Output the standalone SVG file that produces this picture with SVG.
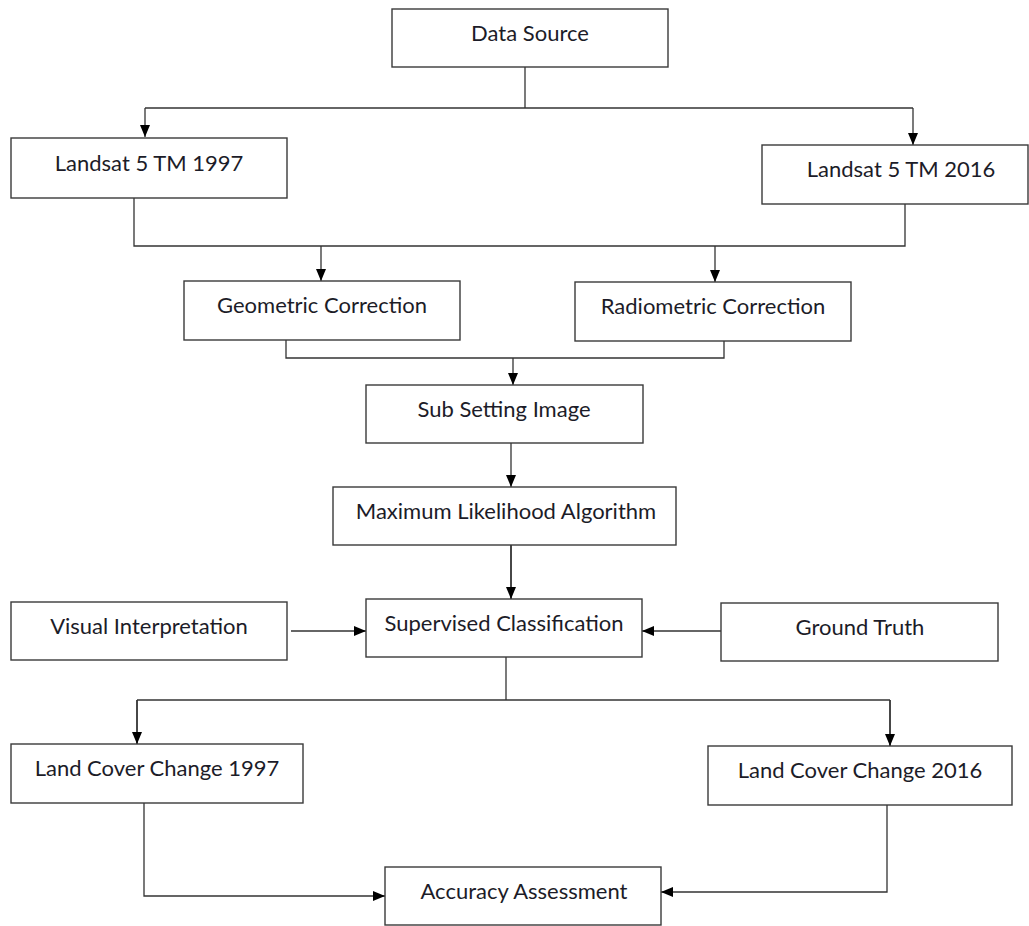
<svg xmlns="http://www.w3.org/2000/svg" width="1029" height="926" viewBox="0 0 1029 926">
<style>
.box{fill:#fff;stroke:#3a3a3a;stroke-width:1.4}
.lbl{font-family:Lato,"Liberation Sans",sans-serif;font-size:22px;fill:#1c1c28;text-anchor:middle}
.con{fill:none;stroke:#333;stroke-width:1.3}
</style>
<defs>
<marker id="ah" markerUnits="userSpaceOnUse" markerWidth="12" markerHeight="10" refX="12" refY="5" orient="auto">
<path d="M0,0 L12,5 L0,10 z" fill="#000"/>
</marker>
</defs>
<rect width="1029" height="926" fill="#fff"/>
<g id="connectors">
<path class="con" d="M525,67 V108"/>
<path class="con" d="M145,108 H913"/>
<path class="con" d="M145,108 V137" marker-end="url(#ah)"/>
<path class="con" d="M913,108 V145" marker-end="url(#ah)"/>
<path class="con" d="M134,198 V246 H905 V204"/>
<path class="con" d="M321,246 V281" marker-end="url(#ah)"/>
<path class="con" d="M715,246 V282" marker-end="url(#ah)"/>
<path class="con" d="M286,340 V358 H724 V341"/>
<path class="con" d="M513,358 V385" marker-end="url(#ah)"/>
<path class="con" d="M511,443 V487" marker-end="url(#ah)"/>
<path class="con" d="M511,545 V599" marker-end="url(#ah)" style="stroke-width:1.8"/>
<path class="con" d="M291,631 H366" marker-end="url(#ah)"/>
<path class="con" d="M721,631 H642" marker-end="url(#ah)"/>
<path class="con" d="M506,657 V700"/>
<path class="con" d="M137,700 H890"/>
<path class="con" d="M137,700 V744" marker-end="url(#ah)" style="stroke-width:1.8"/>
<path class="con" d="M890,700 V746" marker-end="url(#ah)" style="stroke-width:1.8"/>
<path class="con" d="M144,803 V896 H385" marker-end="url(#ah)"/>
<path class="con" d="M887,805 V892 H661" marker-end="url(#ah)"/>
</g>
<g id="data-source"><rect class="box" x="392" y="9" width="276" height="58"/><text class="lbl" x="530" y="41">Data Source</text></g>
<g id="landsat-1997"><rect class="box" x="11" y="138" width="276" height="60"/><text class="lbl" x="149" y="171">Landsat 5 TM 1997</text></g>
<g id="landsat-2016"><rect class="box" x="762" y="145" width="266" height="59"/><text class="lbl" x="901" y="177">Landsat 5 TM 2016</text></g>
<g id="geometric"><rect class="box" x="184" y="281" width="276" height="59"/><text class="lbl" x="322" y="313">Geometric Correction</text></g>
<g id="radiometric"><rect class="box" x="575" y="282" width="276" height="59"/><text class="lbl" x="713" y="314">Radiometric Correction</text></g>
<g id="subsetting"><rect class="box" x="366" y="385" width="277" height="58"/><text class="lbl" x="504" y="417">Sub Setting Image</text></g>
<g id="max-likelihood"><rect class="box" x="333" y="487" width="343" height="58"/><text class="lbl" x="506" y="519">Maximum Likelihood Algorithm</text></g>
<g id="visual"><rect class="box" x="11" y="602" width="276" height="58"/><text class="lbl" x="149" y="634">Visual Interpretation</text></g>
<g id="supervised"><rect class="box" x="366" y="599" width="276" height="58"/><text class="lbl" x="504" y="631">Supervised Classification</text></g>
<g id="ground-truth"><rect class="box" x="721" y="603" width="277" height="58"/><text class="lbl" x="860" y="635">Ground Truth</text></g>
<g id="lcc-1997"><rect class="box" x="11" y="744" width="292" height="59"/><text class="lbl" x="157" y="776">Land Cover Change 1997</text></g>
<g id="lcc-2016"><rect class="box" x="708" y="746" width="304" height="59"/><text class="lbl" x="860" y="778">Land Cover Change 2016</text></g>
<g id="accuracy"><rect class="box" x="385" y="867" width="276" height="58"/><text class="lbl" x="524" y="899">Accuracy Assessment</text></g>
</svg>
